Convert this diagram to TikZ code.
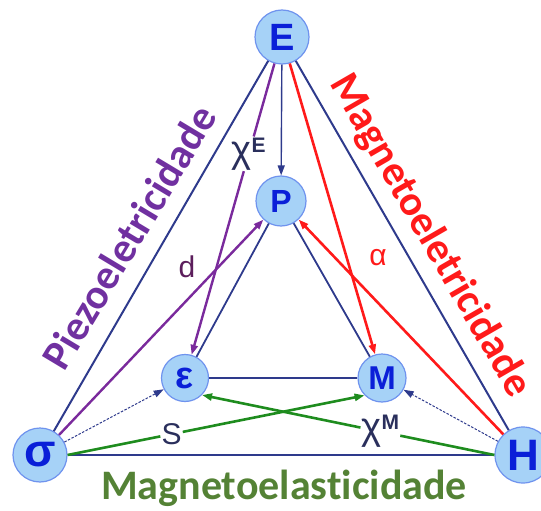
\documentclass[tikz,border=0pt]{standalone}
\usepackage{fontspec}
\setmainfont{Liberation Sans}
\newfontfamily\titlefont[Ligatures=NoCommon]{Carlito}
\usetikzlibrary{arrows.meta}
\definecolor{navyline}{HTML}{2E3A8C}
\definecolor{nodefill}{HTML}{A6D2F7}
\definecolor{nodeedge}{HTML}{6F93EE}
\definecolor{nodetext}{HTML}{0A1FD8}
\definecolor{piezo}{HTML}{7A2A9C}
\definecolor{piezotext}{HTML}{7030A0}
\definecolor{magel}{HTML}{FF1A1A}
\definecolor{magelast}{HTML}{1E8C1E}
\definecolor{magelasttext}{HTML}{548235}
\definecolor{dlabel}{HTML}{5C1E5C}
\definecolor{greeklabel}{HTML}{2A2F5C}
\newcommand{\fs}[1]{\fontsize{#1}{#1}\selectfont}
\tikzset{
  >={Triangle[length=10pt, width=7pt]},
  field/.style={circle, draw=nodeedge, fill=nodefill, line width=1.2pt,
                minimum size=50pt, inner sep=0pt, text=nodetext},
  frame/.style={navyline, line width=2pt},
  link/.style={navyline, line width=1.4pt, ->},
  dashlink/.style={navyline, line width=1pt, dash pattern=on 2.5pt off 1.5pt, ->},
  piezoarrow/.style={piezo, line width=2.4pt},
  mearrow/.style={magel, line width=2.6pt},
  elarrow/.style={magelast, line width=2.6pt},
  coef/.style={inner sep=1pt, font=\fs{30}},
  effect/.style={font=\titlefont\fs{42}\bfseries},
}
\begin{document}
\begin{tikzpicture}[x=1pt, y=-1pt]
  \useasboundingbox (0,0) rectangle (541,511);
  % fields
  \node[field, minimum size=54pt, font=\fs{38}\bfseries] (nE) at (282,37) {E};
  \node[field, minimum size=50pt, font=\fs{32}\bfseries] (nP) at (281,201) {P};
  \node[field, minimum size=47pt, font=\fs{38}\bfseries] (nEps) at (185,378) {ε};
  \node[field, minimum size=48pt, font=\fs{33}\bfseries] (nM) at (382,378) {M};
  \node[field, minimum size=54pt, font=\fs{46}\bfseries] (nSig) at (40,455) {σ};
  \node[field, minimum size=56pt, font=\fs{44}\bfseries] (nH) at (523,455) {H};
  % triangles
  \draw[frame] (nE) -- (nSig);
  \draw[frame] (nE) -- (nH);
  \draw[frame] (nSig) -- (nH);
  \draw[frame, line width=1.8pt] (nP) -- (nEps);
  \draw[frame, line width=1.8pt] (nP) -- (nM);
  \draw[frame, line width=1.8pt] (nEps) -- (nM);
  \draw[link] (nE) -- (nP);
  \draw[dashlink] (nSig) -- (nEps);
  \draw[dashlink] (nH) -- (nM);
  % piezoelectric
  \path (nE) -- (nEps) node[coef, pos=0.31, text=greeklabel] (chiE)
    {\fs{38}χ\raisebox{10pt}{\fs{21}\bfseries E}};
  \draw[piezoarrow] (nE) -- (chiE);
  \draw[piezoarrow, ->] (chiE) -- (nEps);
  \draw[piezoarrow, ->] (nSig) -- (nP);
  \node[coef, text=dlabel] (lblD) at (187,267) {d};
  % magnetoelectric
  \draw[mearrow, ->] (nE) -- (nM);
  \draw[mearrow, ->] (nH) -- (nP);
  \node[coef, text=magel] (lblAlpha) at (378,258) {α};
  % magnetoelastic
  \path (nSig.east) -- (nM.south west) node[coef, pos=0.35, text=greeklabel] (lblS) {S};
  \draw[elarrow] (nSig.east) -- (lblS);
  \draw[elarrow, ->] (lblS) -- (nM.south west);
  \path (nH.west) -- (nEps.south east) node[coef, pos=0.39, text=greeklabel] (chiM)
    {\fs{38}χ\raisebox{10pt}{\fs{21}\bfseries M}};
  \draw[elarrow] (nH.west) -- (chiM);
  \draw[elarrow, ->] (chiM) -- (nEps.south east);
  % effect names
  \node[effect, text=piezotext, rotate=59] (tPiezo) at (129,237) {Piezoeletricidade};
  \node[effect, text=magel, rotate=-60] (tMagEl) at (430,236) {Magnetoeletricidade};
  \node[effect, text=magelasttext] (tMagElast) at (284,488) {Magnetoelasticidade};
\end{tikzpicture}
\end{document}
